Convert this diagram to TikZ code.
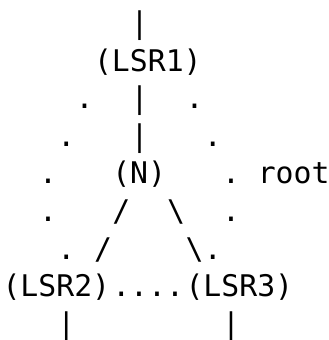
\documentclass[tikz,border=0pt]{standalone}
\usepackage{fontspec}
\newfontfamily\asciimono{DejaVu Sans Mono}
\tikzset{
  glyph/.style={anchor=base west, inner sep=0pt, outer sep=0pt,
    font=\asciimono\fontsize{29.8pt}{29.8pt}\selectfont},
}
\begin{document}
\begin{tikzpicture}
\useasboundingbox (0,0) rectangle (329pt,-340pt);
% character grid: one unit = one monospace cell, rows counted downwards
\begin{scope}[x=18.3pt, y=-37.6pt, shift={(2.5pt,-33.5pt)}]
  % row 0
  \node[glyph] (topbar) at (7,0) {|};
  % row 1
  \node[glyph] (lsr1) at (5,1) {(LSR1)};
  % row 2
  \node[glyph] (dl2) at (4,2) {.};
  \node[glyph] (bar2) at (7,2) {|};
  \node[glyph] (dr2) at (10,2) {.};
  % row 3
  \node[glyph] (dl3) at (3,3) {.};
  \node[glyph] (bar3) at (7,3) {|};
  \node[glyph] (dr3) at (11,3) {.};
  % row 4
  \node[glyph] (dl4) at (2,4) {.};
  \node[glyph] (n) at (6,4) {(N)};
  \node[glyph] (dr4) at (12,4) {.};
  \node[glyph] (root) at (13.95,4) {root};
  % row 5
  \node[glyph] (dl5) at (2,5) {.};
  \node[glyph] (sl5) at (6,5) {/};
  \node[glyph] (bs5) at (9,5) {\textbackslash};
  \node[glyph] (dr5) at (12,5) {.};
  % row 6
  \node[glyph] (dl6) at (3,6) {.};
  \node[glyph] (sl6) at (5,6) {/};
  \node[glyph] (bs6) at (10,6) {\textbackslash};
  \node[glyph] (dr6) at (11,6) {.};
  % row 7
  \node[glyph] (lsr2) at (0,7) {(LSR2)};
  \node[glyph] (dots7) at (6,7) {....};
  \node[glyph] (lsr3) at (10,7) {(LSR3)};
  % row 8
  \node[glyph] (barl8) at (3,8) {|};
  \node[glyph] (barr8) at (12,8) {|};
\end{scope}
\end{tikzpicture}
\end{document}
